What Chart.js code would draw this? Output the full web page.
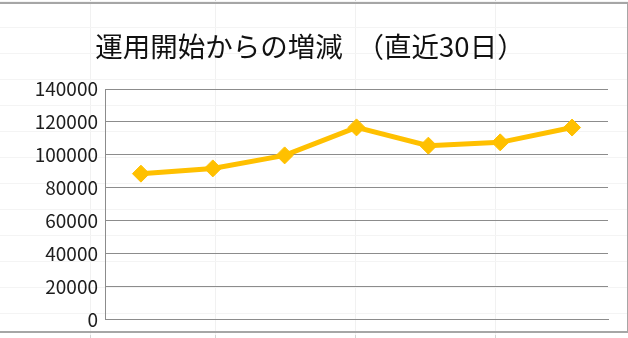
<!DOCTYPE html>
<html lang="ja">
<head>
<meta charset="utf-8">
<script src="https://cdn.jsdelivr.net/npm/chart.js@4"></script>
<style>
  html, body { margin: 0; padding: 0; background: #fff; }
  #sheet { position: relative; width: 628px; height: 338px; overflow: hidden; background: #fff; }
  .col { position: absolute; top: 0; width: 1px; height: 338px; background: #f1f1f1; }
  .row { position: absolute; left: 0; height: 1px; width: 628px; background: #f4f4f4; }
  .col-out { position: absolute; width: 1px; background: #d4d4d4; }
  #frame { position: absolute; left: -2px; top: 2px; height: 331px; width: 631px;
           border-top: 2px solid #a6a6a6; border-right: 2px solid #a6a6a6; border-bottom: 2px solid #a6a6a6;
           box-sizing: border-box; }
  #chart { position: absolute; left: 0; top: 0; }
</style>
</head>
<body>
<div id="sheet">
  <div id="cells"></div>
  <div id="frame"></div>
  <canvas id="chart" width="628" height="338"></canvas>
</div>
<script>
// chart data
const days = ['1', '2', '3', '4', '5', '6', '7'];
const balance = [88600, 91800, 99700, 116700, 105600, 107600, 116600];
const titleText = '運用開始からの増減　（直近30日）';
const yMin = 0;
const yMax = 140000;
const yStep = 20000;

// faint spreadsheet cells behind the chart
const cells = document.getElementById('cells');
[90, 215, 355, 495].forEach(x => {
    cells.insertAdjacentHTML('beforeend', `<div class="col" style="left:${x}px"></div>`);
    cells.insertAdjacentHTML('beforeend', `<div class="col-out" style="left:${x}px;top:0;height:2px"></div>`);
    cells.insertAdjacentHTML('beforeend', `<div class="col-out" style="left:${x}px;top:335px;height:3px"></div>`);
});
for (let y = 1; y < 338; y += 26) {
    cells.insertAdjacentHTML('beforeend', `<div class="row" style="top:${y}px"></div>`);
}

const ctx = document.getElementById('chart').getContext('2d');

const chart = new Chart(ctx, {
    type: 'line',
    data: {
        labels: days,
        datasets: [{
            data: balance,
            borderColor: '#FFC000',
            backgroundColor: '#FFC000',
            borderWidth: 5,
            pointStyle: 'rectRot',
            pointRadius: 8.5,
            pointBorderWidth: 1,
            pointBackgroundColor: '#FFC000',
            pointBorderColor: '#FFC000',
            tension: 0
        }]
    },
    options: {
        responsive: false,
        animation: false,
        layout: {
            padding: { left: 12, right: 20, top: 0, bottom: 16 }
        },
        plugins: {
            legend: { display: false },
            tooltip: { enabled: false },
            title: {
                display: true,
                text: titleText,
                color: '#111',
                font: { family: '"Noto Sans CJK JP", "Noto Sans", sans-serif', size: 27.5, weight: 'normal', lineHeight: 1.2 },
                padding: { top: 30, bottom: 26 }
            }
        },
        scales: {
            x: {
                offset: true,
                ticks: { display: false },
                grid: { display: false, drawTicks: false },
                border: { display: true, color: '#8c8c8c', width: 1 }
            },
            y: {
                min: yMin,
                max: yMax,
                afterFit: scale => { scale.width = 93; },
                ticks: {
                    stepSize: yStep,
                    padding: 7,
                    color: '#1e1e1e',
                    font: { family: '"Noto Sans CJK JP", "Noto Sans", sans-serif', size: 19 },
                    callback: value => String(value)
                },
                grid: { color: '#8c8c8c', lineWidth: 1, drawTicks: false },
                border: { display: true, color: '#8c8c8c', width: 1 }
            }
        }
    }
});
</script>
</body>
</html>
